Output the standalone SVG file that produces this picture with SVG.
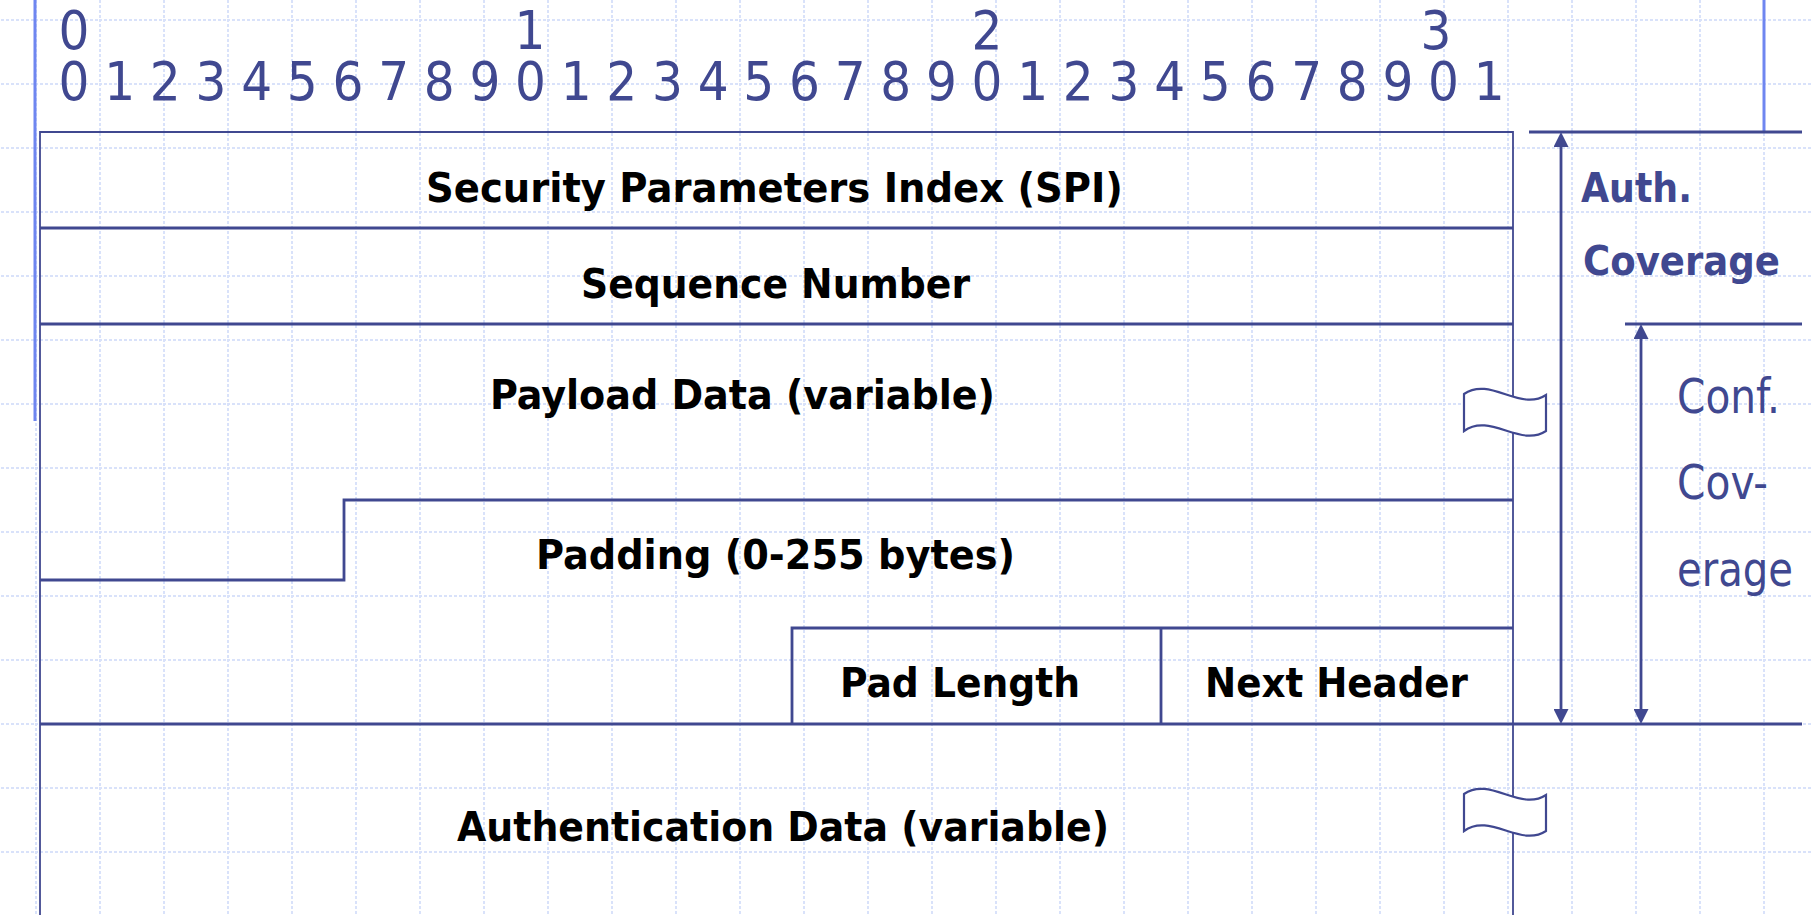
<svg xmlns="http://www.w3.org/2000/svg" width="1811" height="915" viewBox="0 0 1811 915">
<style>
.ln{stroke:#404890;stroke-width:2.8;fill:none}
.thin{stroke:#404890;stroke-width:1.8;fill:none}
.bright{stroke:#6F86F0;stroke-width:3;fill:none}
.dg{font-family:"DejaVu Sans","Liberation Sans",sans-serif;font-stretch:condensed;font-size:54px;fill:#404890;text-anchor:middle}
.lb{font-family:"DejaVu Sans","Liberation Sans",sans-serif;font-stretch:condensed;font-weight:bold;font-size:41px;fill:#000}
.bl{font-family:"DejaVu Sans","Liberation Sans",sans-serif;font-stretch:condensed;font-weight:bold;font-size:41px;fill:#404890}
.cf{font-family:"DejaVu Sans","Liberation Sans",sans-serif;font-stretch:condensed;font-size:48px;fill:#404890}
.wave{fill:#fff;stroke:#404890;stroke-width:2.2}
</style>
<defs>
<pattern id="grid" patternUnits="userSpaceOnUse" x="35" y="19" width="64" height="64">
<path d="M1,0 V64 M0,1 H64" stroke="#D9E2FA" stroke-width="2" stroke-dasharray="3 2" fill="none"/>
</pattern>
<marker id="ah" viewBox="0 0 15 15" refX="5" refY="7.5" markerWidth="15" markerHeight="15" markerUnits="userSpaceOnUse" orient="auto-start-reverse">
<path d="M0,0 L15,7.5 L0,15 z" fill="#404890"/>
</marker>
</defs>
<rect width="1811" height="915" fill="#fff"/>
<rect width="1811" height="915" fill="url(#grid)"/>
<g id="template">
<line class="bright" x1="35" y1="0" x2="35" y2="421"/>
<line class="bright" x1="1764" y1="0" x2="1764" y2="132"/>
</g>
<g id="bit-ruler">
<text class="dg" x="74" y="49">0</text>
<text class="dg" x="530" y="49">1</text>
<text class="dg" x="987" y="49">2</text>
<text class="dg" x="1436" y="49">3</text>
<text class="dg" x="74" y="100">0</text>
<text class="dg" x="119.7" y="100">1</text>
<text class="dg" x="165.3" y="100">2</text>
<text class="dg" x="211" y="100">3</text>
<text class="dg" x="256.6" y="100">4</text>
<text class="dg" x="302.3" y="100">5</text>
<text class="dg" x="347.9" y="100">6</text>
<text class="dg" x="393.6" y="100">7</text>
<text class="dg" x="439.2" y="100">8</text>
<text class="dg" x="484.9" y="100">9</text>
<text class="dg" x="530.5" y="100">0</text>
<text class="dg" x="576.2" y="100">1</text>
<text class="dg" x="621.8" y="100">2</text>
<text class="dg" x="667.5" y="100">3</text>
<text class="dg" x="713.1" y="100">4</text>
<text class="dg" x="758.8" y="100">5</text>
<text class="dg" x="804.4" y="100">6</text>
<text class="dg" x="850.1" y="100">7</text>
<text class="dg" x="895.7" y="100">8</text>
<text class="dg" x="941.4" y="100">9</text>
<text class="dg" x="987" y="100">0</text>
<text class="dg" x="1032.7" y="100">1</text>
<text class="dg" x="1078.3" y="100">2</text>
<text class="dg" x="1124" y="100">3</text>
<text class="dg" x="1169.6" y="100">4</text>
<text class="dg" x="1215.3" y="100">5</text>
<text class="dg" x="1260.9" y="100">6</text>
<text class="dg" x="1306.6" y="100">7</text>
<text class="dg" x="1352.2" y="100">8</text>
<text class="dg" x="1397.9" y="100">9</text>
<text class="dg" x="1443.5" y="100">0</text>
<text class="dg" x="1489.2" y="100">1</text>
</g>
<g id="packet-frame">
<path class="thin" d="M40,915 V132 H1513 V915"/>
</g>
<g id="spi">
<line class="ln" x1="40" y1="228" x2="1513" y2="228"/>
<text class="lb" x="426" y="202" textLength="697" lengthAdjust="spacingAndGlyphs">Security Parameters Index (SPI)</text>
</g>
<g id="sequence-number">
<line class="ln" x1="40" y1="324" x2="1513" y2="324"/>
<text class="lb" x="581" y="298" textLength="389" lengthAdjust="spacingAndGlyphs">Sequence Number</text>
</g>
<g id="payload-data">
<text class="lb" x="490" y="409" textLength="505" lengthAdjust="spacingAndGlyphs">Payload Data (variable)</text>
<path class="wave" d="M1464,394 C1490,376 1520,412 1546,395 L1546,431 C1520,448 1490,412 1464,431 Z"/>
</g>
<g id="padding">
<path class="ln" d="M40,580 H344 V500 H1513"/>
<text class="lb" x="536" y="569" textLength="479" lengthAdjust="spacingAndGlyphs">Padding (0-255 bytes)</text>
</g>
<g id="pad-length">
<path class="ln" d="M792,724 V628 H1513"/>
<text class="lb" x="840" y="697" textLength="240" lengthAdjust="spacingAndGlyphs">Pad Length</text>
</g>
<g id="next-header">
<line class="ln" x1="1161" y1="628" x2="1161" y2="724"/>
<text class="lb" x="1205" y="697" textLength="263" lengthAdjust="spacingAndGlyphs">Next Header</text>
</g>
<g id="authentication-data">
<line class="ln" x1="40" y1="724" x2="1802" y2="724"/>
<text class="lb" x="457" y="841" textLength="652" lengthAdjust="spacingAndGlyphs">Authentication Data (variable)</text>
<path class="wave" d="M1464,794 C1490,776 1520,812 1546,795 L1546,831 C1520,848 1490,812 1464,831 Z"/>
</g>
<g id="auth-coverage">
<line class="ln" x1="1529" y1="132" x2="1802" y2="132"/>
<text class="bl" x="1581" y="202" textLength="111" lengthAdjust="spacingAndGlyphs">Auth.</text>
<text class="bl" x="1583" y="275" textLength="197" lengthAdjust="spacingAndGlyphs">Coverage</text>
</g>
<g id="conf-coverage">
<line class="ln" x1="1625" y1="324" x2="1802" y2="324"/>
<text class="cf" x="1677" y="413" textLength="103" lengthAdjust="spacingAndGlyphs">Conf.</text>
<text class="cf" x="1677" y="499" textLength="91" lengthAdjust="spacingAndGlyphs">Cov-</text>
<text class="cf" x="1677" y="586" textLength="116" lengthAdjust="spacingAndGlyphs">erage</text>
</g>
<g id="connectors">
<line class="ln" x1="1561" y1="142" x2="1561" y2="714" marker-start="url(#ah)" marker-end="url(#ah)"/>
<line class="ln" x1="1641" y1="334" x2="1641" y2="714" marker-start="url(#ah)" marker-end="url(#ah)"/>
</g>
</svg>
